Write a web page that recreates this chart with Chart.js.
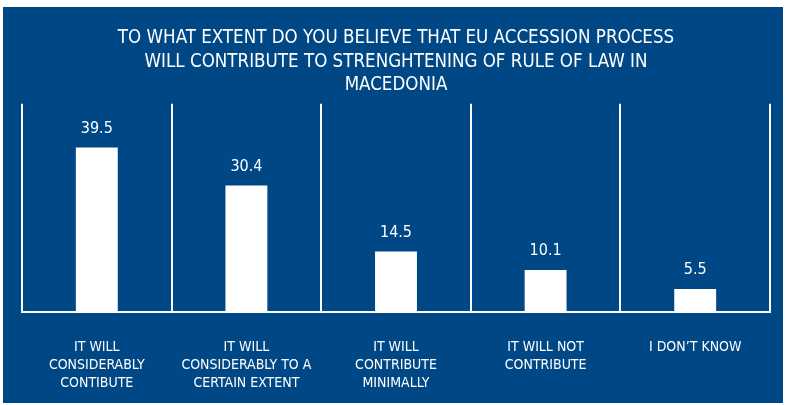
<!DOCTYPE html>
<html><head><meta charset="utf-8">
<script src="https://cdn.jsdelivr.net/npm/chart.js@4/dist/chart.umd.min.js"></script>
<style>
html,body{margin:0;padding:0;background:#fff;width:785px;height:405px;overflow:hidden;}
#wrap{position:absolute;left:3px;top:7px;width:780px;height:396px;background:#004786;}
</style></head><body>
<div id="wrap"><canvas id="c" width="780" height="396"></canvas></div>
<script>
const titleLines = ["TO WHAT EXTENT DO YOU BELIEVE THAT EU ACCESSION PROCESS","WILL CONTRIBUTE TO STRENGHTENING OF RULE OF LAW IN","MACEDONIA"];
const categories = [["IT WILL","CONSIDERABLY","CONTIBUTE"],["IT WILL","CONSIDERABLY TO A","CERTAIN EXTENT"],["IT WILL","CONTRIBUTE","MINIMALLY"],["IT WILL NOT","CONTRIBUTE"],["I DON’T KNOW"]];
const values = [39.5, 30.4, 14.5, 10.1, 5.5];
const FONT = "'DejaVu Sans Condensed','Liberation Sans Narrow',sans-serif";

const valueLabels = {
  id:'valueLabels',
  afterDatasetsDraw(chart){
    const ctx = chart.ctx;
    const meta = chart.getDatasetMeta(0);
    ctx.save();
    ctx.fillStyle = '#fff';
    ctx.font = '16px ' + FONT;
    ctx.textAlign = 'center';
    ctx.textBaseline = 'middle';
    meta.data.forEach((bar,i)=>{
      ctx.fillText(values[i].toFixed(1), bar.x, bar.y - 19);
    });
    ctx.restore();
  }
};

new Chart(document.getElementById('c'), {
  type:'bar',
  data:{labels:categories, datasets:[{data:values, backgroundColor:'#ffffff', borderWidth:0, barPercentage:0.28, categoryPercentage:1}]},
  options:{
    responsive:false, animation:false,
    layout:{padding:{left:19, right:13, top:0, bottom:10}},
    plugins:{
      legend:{display:false}, tooltip:{enabled:false},
      title:{display:true, text:titleLines, color:'#fff', font:{family:FONT, size:18.6, weight:'normal', lineHeight:1.25}, padding:{top:20,bottom:7}}
    },
    scales:{
      y:{display:false, min:0, max:50},
      x:{
        offset:true,
        afterFit(scale){ scale.height = 81; },
        grid:{display:true, offset:true, color:'#ffffff', lineWidth:2, drawTicks:false},
        border:{display:true, color:'#ffffff', width:2},
        ticks:{color:'#fff', padding:26, maxRotation:0, autoSkip:false, font:{family:FONT, size:14, lineHeight:1.3}}
      }
    }
  },
  plugins:[valueLabels]
});
</script></body></html>
